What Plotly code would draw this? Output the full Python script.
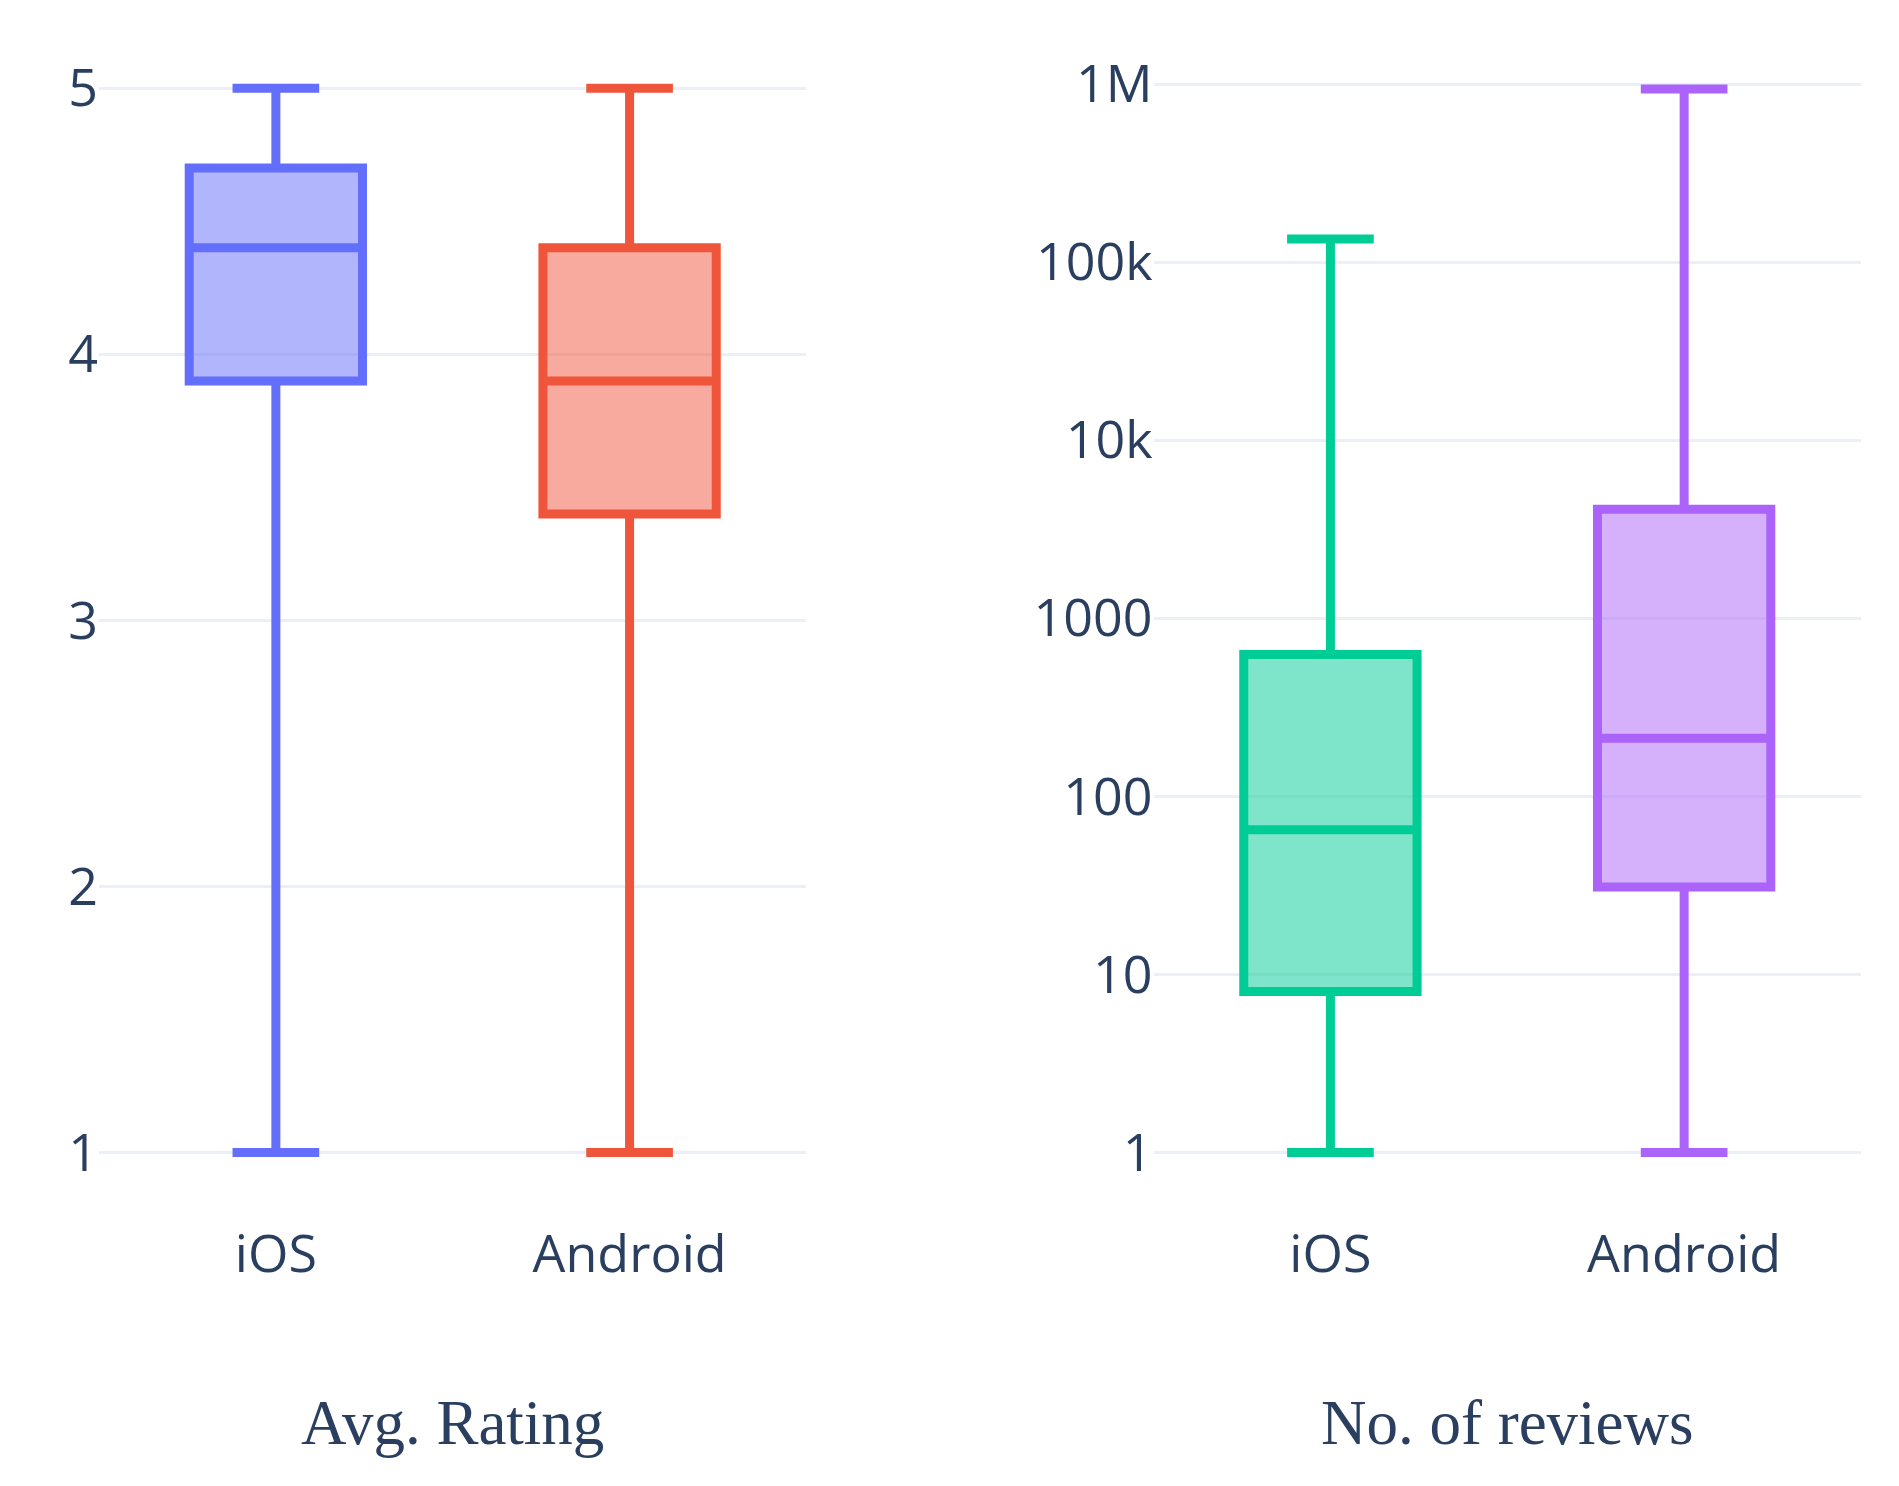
import plotly.graph_objects as go
from plotly.subplots import make_subplots

# box stats
platforms = ["iOS", "Android"]

rating_low = [1, 1]
rating_q1 = [3.9, 3.4]
rating_med = [4.4, 3.9]
rating_q3 = [4.7, 4.4]
rating_high = [5, 5]

reviews_low = [1, 1]
reviews_q1 = [8, 31]
reviews_med = [65, 212]
reviews_q3 = [625, 4100]
reviews_high = [135000, 940000]

rating_colors = ["#636efa", "#EF553B"]
reviews_colors = ["#00cc96", "#ab63fa"]

fig = make_subplots(rows=1, cols=2, horizontal_spacing=0.2)

for i, p in enumerate(platforms):
    fig.add_trace(go.Box(
        x=[p], q1=[rating_q1[i]], median=[rating_med[i]], q3=[rating_q3[i]],
        lowerfence=[rating_low[i]], upperfence=[rating_high[i]],
        name=p, marker_color=rating_colors[i], line_width=9,
        showlegend=False), row=1, col=1)

for i, p in enumerate(platforms):
    fig.add_trace(go.Box(
        x=[p], q1=[reviews_q1[i]], median=[reviews_med[i]], q3=[reviews_q3[i]],
        lowerfence=[reviews_low[i]], upperfence=[reviews_high[i]],
        name=p, marker_color=reviews_colors[i], line_width=9,
        showlegend=False), row=1, col=2)

title_font = dict(family="Liberation Serif, Times New Roman, serif", size=63, color="#2a3f5f")

fig.update_layout(
    template="plotly_white",
    width=1899, height=1486,
    margin=dict(l=91, r=46, t=35, b=275),
    font=dict(family="Open Sans, Verdana, Arial, sans-serif", size=52, color="#2a3f5f"),
    boxmode="overlay",
)
fig.update_xaxes(automargin=False)
fig.update_yaxes(automargin=False, gridwidth=3, gridcolor="#EBF0F8")
fig.update_xaxes(title_text="Avg. Rating", title_font=title_font, title_standoff=113,
                 domain=[0, 0.4015], row=1, col=1)
fig.update_xaxes(title_text="No. of reviews", title_font=title_font, title_standoff=113,
                 domain=[0.5985, 1], row=1, col=2)
fig.update_yaxes(range=[0.75, 5.17], dtick=1, row=1, col=1)
fig.update_yaxes(type="log", range=[-0.374, 6.231], dtick=1, row=1, col=2)

fig.write_html("out.html")
